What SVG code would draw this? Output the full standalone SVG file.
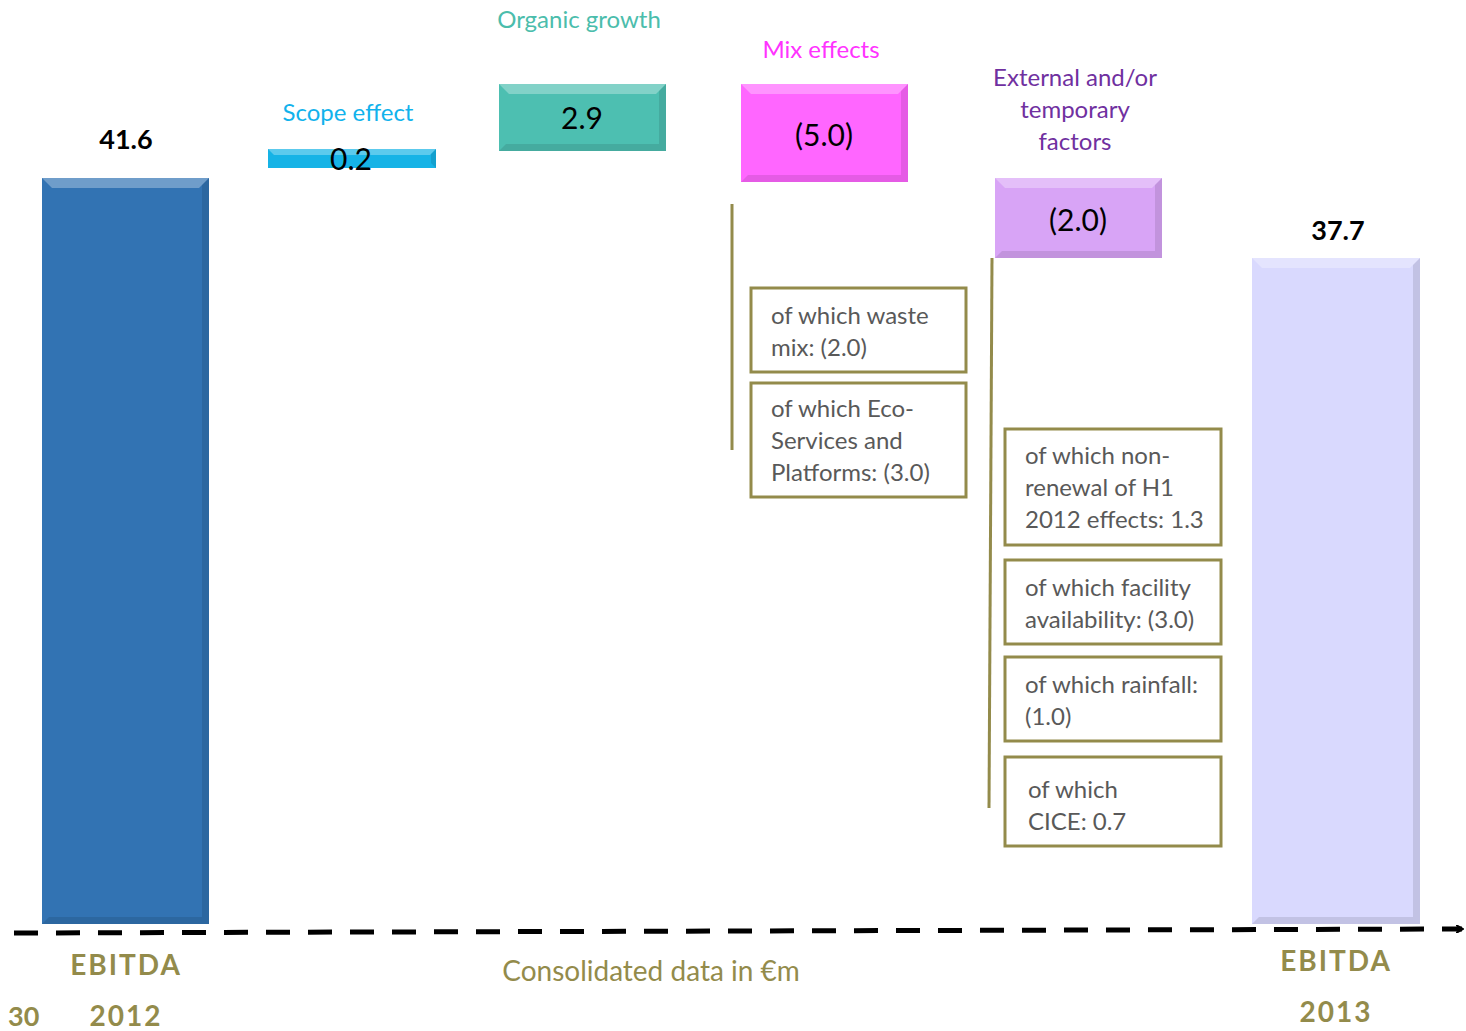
<svg xmlns="http://www.w3.org/2000/svg" width="1466" height="1031" viewBox="0 0 1466 1031">
<style>
text{font-family:Lato,"Open Sans","Liberation Sans",sans-serif}
.val{font-size:30px;fill:#000;text-anchor:middle}
.big{font-size:27px;font-weight:bold;fill:#000;text-anchor:middle}
.cat{font-size:24px;text-anchor:middle}
.box{fill:#fff;stroke:#938b4b;stroke-width:3}
.bt{font-size:24px;fill:#595959}
.ol{fill:#938b4b;font-weight:bold;font-size:28px;text-anchor:middle;letter-spacing:2px}
.hl{fill:#fff;opacity:0.3}
.sh{fill:#000;opacity:0.1}
.vl{stroke:#938b4b;stroke-width:3;fill:none}
</style>
<defs>
<marker id="arr" markerWidth="8" markerHeight="8" refX="6" refY="4" orient="auto" markerUnits="userSpaceOnUse">
<path d="M0,0 L7,4 L0,8" fill="none" stroke="#000" stroke-width="2"/>
</marker>
</defs>
<g id="connectors">
<line x1="14" y1="933" x2="1462" y2="929" stroke="#000" stroke-width="5" stroke-dasharray="24 18" marker-end="url(#arr)"/>
<line class="vl" x1="732" y1="204" x2="732" y2="450"/>
<line class="vl" x1="992" y1="258" x2="989" y2="808"/>
</g>
<g id="bar-ebitda-2012">
<rect x="42" y="178" width="167" height="746" fill="#3273b3"/>
<polygon class="hl" points="42,178 209,178 199,188 52,188"/>
<polygon class="sh" points="209,178 209,924 202,917 202,185"/>
<polygon class="sh" points="42,924 209,924 202,917 49,917"/>
<text class="big" x="126" y="149">41.6</text>
<text class="ol" x="126" y="975">EBITDA</text>
<text class="ol" x="126" y="1026">2012</text>
</g>
<g id="bar-scope">
<rect x="268" y="149" width="168" height="19" fill="#16b3e6"/>
<polygon class="hl" points="268,149 436,149 430,155 274,155"/>
<polygon class="sh" points="436,149 436,168 431,163 431,154"/>
<text class="cat" x="348" y="121" fill="#12b2ec">Scope effect</text>
<text class="val" x="351" y="170">0.2</text>
</g>
<g id="bar-organic">
<rect x="499" y="84" width="167" height="67" fill="#4dbfb1"/>
<polygon class="hl" points="499,84 666,84 656,94 509,94"/>
<polygon class="sh" points="666,84 666,151 659,144 659,91"/>
<polygon class="sh" points="499,151 666,151 659,144 506,144"/>
<text class="cat" x="579" y="28" fill="#4bbdac">Organic growth</text>
<text class="val" x="582" y="129">2.9</text>
</g>
<g id="bar-mix">
<rect x="741" y="84" width="167" height="98" fill="#ff66ff"/>
<polygon class="hl" points="741,84 908,84 898,94 751,94"/>
<polygon class="sh" points="908,84 908,182 901,175 901,91"/>
<polygon class="sh" points="741,182 908,182 901,175 748,175"/>
<text class="cat" x="821" y="58" fill="#ff33ff">Mix effects</text>
<text class="val" x="824" y="146">(5.0)</text>
</g>
<g id="bar-external">
<rect x="995" y="178" width="167" height="80" fill="#d8a4f6"/>
<polygon class="hl" points="995,178 1162,178 1152,188 1005,188"/>
<polygon class="sh" points="1162,178 1162,258 1155,251 1155,185"/>
<polygon class="sh" points="995,258 1162,258 1155,251 1002,251"/>
<text class="cat" x="1075" y="86" fill="#7030a0">External and/or</text>
<text class="cat" x="1075" y="118" fill="#7030a0">temporary</text>
<text class="cat" x="1075" y="150" fill="#7030a0">factors</text>
<text class="val" x="1078" y="231">(2.0)</text>
</g>
<g id="bar-ebitda-2013">
<rect x="1252" y="258" width="168" height="666" fill="#d9d9fe"/>
<polygon class="hl" points="1252,258 1420,258 1410,268 1262,268"/>
<polygon class="sh" points="1420,258 1420,924 1413,917 1413,265"/>
<polygon class="sh" points="1252,924 1420,924 1413,917 1259,917"/>
<text class="big" x="1338" y="240">37.7</text>
<text class="ol" x="1336" y="971">EBITDA</text>
<text class="ol" x="1336" y="1022">2013</text>
</g>
<g id="box-waste">
<rect class="box" x="751" y="288" width="215" height="84"/>
<text class="bt" x="771" y="324">of which waste</text>
<text class="bt" x="771" y="356">mix: (2.0)</text>
</g>
<g id="box-eco">
<rect class="box" x="751" y="383" width="215" height="114"/>
<text class="bt" x="771" y="417">of which Eco-</text>
<text class="bt" x="771" y="449">Services and</text>
<text class="bt" x="771" y="481">Platforms: (3.0)</text>
</g>
<g id="box-nonrenewal">
<rect class="box" x="1005" y="429" width="216" height="116"/>
<text class="bt" x="1025" y="464">of which non-</text>
<text class="bt" x="1025" y="496">renewal of H1</text>
<text class="bt" x="1025" y="528">2012 effects: 1.3</text>
</g>
<g id="box-facility">
<rect class="box" x="1005" y="560" width="216" height="84"/>
<text class="bt" x="1025" y="596">of which facility</text>
<text class="bt" x="1025" y="628">availability: (3.0)</text>
</g>
<g id="box-rainfall">
<rect class="box" x="1005" y="657" width="216" height="84"/>
<text class="bt" x="1025" y="693">of which rainfall:</text>
<text class="bt" x="1025" y="725">(1.0)</text>
</g>
<g id="box-cice">
<rect class="box" x="1005" y="757" width="216" height="89"/>
<text class="bt" x="1028" y="798">of which</text>
<text class="bt" x="1028" y="830">CICE:  0.7</text>
</g>
<text x="651" y="981" font-size="28" fill="#938b4b" text-anchor="middle">Consolidated data in €m</text>
<text x="8" y="1026" font-size="27" font-weight="bold" fill="#938b4b">30</text>
</svg>
